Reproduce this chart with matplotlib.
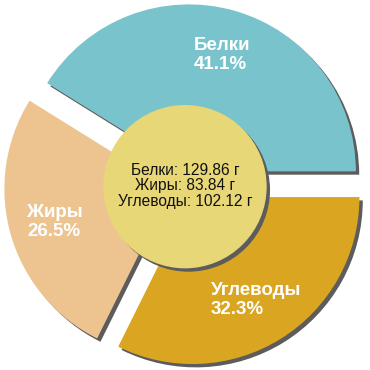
import matplotlib
matplotlib.use("Agg")
import matplotlib.pyplot as plt
from matplotlib.patches import Circle

# данные
names = ["Белки", "Жиры", "Углеводы"]
grams = [129.86, 83.84, 102.12]
percents = [41.1, 26.5, 32.3]
colors = ["#79C4CC", "#EDC490", "#DAA520"]

plt.rcParams['font.family'] = ['Liberation Sans', 'DejaVu Sans']

fig = plt.figure(figsize=(3.7, 3.7), dpi=100)
ax = fig.add_axes([0, 0, 1, 1])

explode = [0.085] * 3
sh = 0.02  # смещение тени

# тень
ax.pie(percents, explode=explode, colors=["#5c5c5c"] * 3, startangle=0,
       counterclock=True, radius=1.0, center=(sh, -sh))

labels = [f"{n}\n{p}%" for n, p in zip(names, percents)]
wedges, texts = ax.pie(percents, explode=explode, colors=colors, startangle=0,
                       counterclock=True, radius=1.0, labels=labels,
                       labeldistance=0.725,
                       textprops=dict(color="white", fontsize=13.5, fontweight="bold"))
for t in texts:
    t.set_horizontalalignment("center")
    t.set_verticalalignment("center")
    t.set_multialignment("left")
    t.set_linespacing(1.15)

# центральный круг
ax.add_patch(Circle((sh, -0.01 - sh), 0.485, color="#5c5c5c", zorder=3))
ax.add_patch(Circle((0, -0.01), 0.485, color="#E8D777", zorder=4))

info = "\n".join(f"{n}: {g:.2f} г" for n, g in zip(names, grams))
ax.text(0, -0.005, info, ha="center", va="center", fontsize=11.2,
        color="#111111", zorder=5, linespacing=1.05)

ax.set_xlim(-1.108, 1.108)
ax.set_ylim(-1.108, 1.108)
ax.set_aspect("equal")
ax.axis("off")

fig.savefig("out.png", dpi=100, facecolor="white")
